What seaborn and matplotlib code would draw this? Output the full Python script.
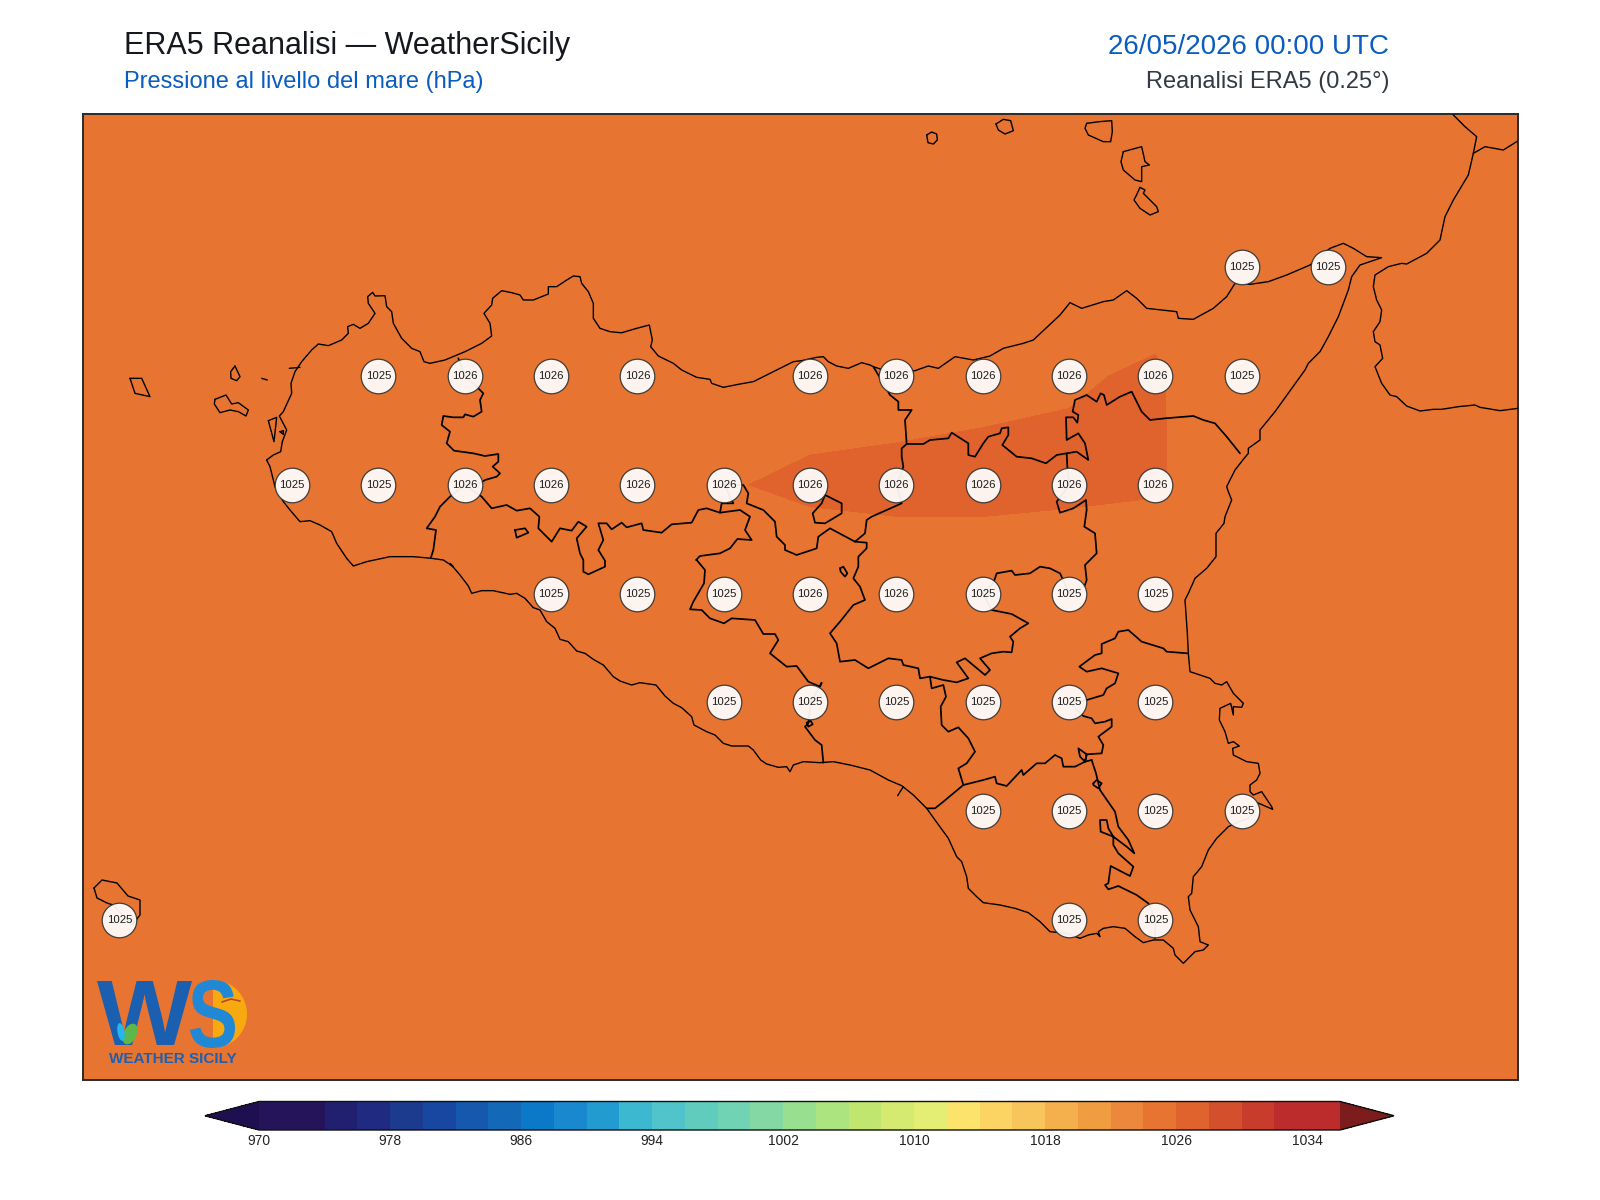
"""ERA5 mean sea level pressure over Sicily, WeatherSicily layout."""

import numpy as np
import pandas as pd
import matplotlib.pyplot as plt
import seaborn as sns
from matplotlib.colors import BoundaryNorm, ListedColormap
from matplotlib.font_manager import FontProperties
from matplotlib.patches import Ellipse, PathPatch, Wedge
from matplotlib.textpath import TextPath
from matplotlib.transforms import Affine2D

# ── Pressure field (hPa) on the 0.25 degree grid, south to north ───────────
LONS = [11.75, 12.0, 12.25, 12.5, 12.75, 13.0, 13.25, 13.5, 13.75, 14.0,
        14.25, 14.5, 14.75, 15.0, 15.25, 15.5, 15.75, 16.0, 16.25]
LATS = [36.25, 36.5, 36.75, 37.0, 37.25, 37.5, 37.75, 38.0, 38.25, 38.5, 38.75]
MSLP_3625 = [1025.0, 1025.0, 1025.0, 1025.0, 1025.0, 1025.0, 1025.0, 1025.0, 1025.0, 1025.0,
             1025.0, 1025.0, 1025.0, 1025.0, 1025.0, 1025.0, 1025.0, 1025.0, 1025.0]
MSLP_3650 = [1025.0, 1025.0, 1025.0, 1025.0, 1025.0, 1025.0, 1025.1, 1025.1, 1025.1, 1025.1,
             1025.1, 1025.1, 1025.1, 1025.1, 1025.1, 1025.0, 1025.0, 1025.0, 1025.0]
MSLP_3675 = [1025.1, 1025.1, 1025.1, 1025.1, 1025.1, 1025.1, 1025.1, 1025.2, 1025.2, 1025.2,
             1025.2, 1025.2, 1025.2, 1025.2, 1025.1, 1025.1, 1025.1, 1025.1, 1025.1]
MSLP_3700 = [1025.1, 1025.1, 1025.1, 1025.1, 1025.2, 1025.2, 1025.2, 1025.2, 1025.2, 1025.3,
             1025.3, 1025.3, 1025.3, 1025.3, 1025.2, 1025.2, 1025.1, 1025.1, 1025.1]
MSLP_3725 = [1025.1, 1025.1, 1025.2, 1025.2, 1025.2, 1025.3, 1025.3, 1025.3, 1025.4, 1025.4,
             1025.4, 1025.4, 1025.4, 1025.4, 1025.3, 1025.2, 1025.2, 1025.1, 1025.1]
MSLP_3750 = [1025.1, 1025.15, 1025.2, 1025.25, 1025.3, 1025.35, 1025.4, 1025.45, 1025.45, 1025.52,
             1025.51, 1025.49, 1025.49, 1025.49, 1025.4, 1025.3, 1025.2, 1025.15, 1025.1]
MSLP_3775 = [1025.15, 1025.2, 1025.3, 1025.4, 1025.45, 1025.55, 1025.65, 1025.75, 1025.95, 1026.12,
             1026.2, 1026.21, 1026.14, 1026.07, 1025.53, 1025.35, 1025.25, 1025.2, 1025.15]
MSLP_3800 = [1025.1, 1025.15, 1025.2, 1025.3, 1025.45, 1025.55, 1025.6, 1025.6, 1025.6, 1025.68,
             1025.68, 1025.81, 1025.94, 1026.07, 1025.49, 1025.3, 1025.2, 1025.15, 1025.1]
MSLP_3825 = [1025.1, 1025.15, 1025.2, 1025.25, 1025.3, 1025.35, 1025.4, 1025.4, 1025.45, 1025.45,
             1025.5, 1025.55, 1025.6, 1025.72, 1025.3, 1025.2, 1025.15, 1025.1, 1025.1]
MSLP_3850 = [1025.1, 1025.1, 1025.1, 1025.2, 1025.2, 1025.2, 1025.3, 1025.3, 1025.3, 1025.3,
             1025.3, 1025.3, 1025.3, 1025.3, 1025.2, 1025.2, 1025.1, 1025.1, 1025.1]
MSLP_3875 = [1025.0, 1025.0, 1025.1, 1025.1, 1025.1, 1025.1, 1025.1, 1025.2, 1025.2, 1025.2,
             1025.2, 1025.2, 1025.2, 1025.2, 1025.1, 1025.1, 1025.1, 1025.0, 1025.0]

# Grid points that carry a value label: latitude -> longitudes
LABELLED = {
    38.25: [15.25, 15.5],
    38.0: [12.75, 13.0, 13.25, 13.5, 14.0, 14.25, 14.5, 14.75, 15.0, 15.25],
    37.75: [12.5, 12.75, 13.0, 13.25, 13.5, 13.75, 14.0, 14.25, 14.5, 14.75, 15.0],
    37.5: [13.25, 13.5, 13.75, 14.0, 14.25, 14.5, 14.75, 15.0],
    37.25: [13.75, 14.0, 14.25, 14.5, 14.75, 15.0],
    37.0: [14.5, 14.75, 15.0, 15.25],
    36.75: [12.0, 14.75, 15.0],
}

# Colour scale
LEVELS = list(range(970, 1037, 2))
CBAR_TICKS = list(range(970, 1035, 8))
BAND_COLORS = [
    "#26145A", "#26145A", "#212070", "#1F2A80", "#1C3A8E", "#1747A0", "#1558AE", "#1368B8",
    "#0B78C8", "#1A88CE", "#229CD0", "#3CB8D0", "#50C4CA", "#60CCBE", "#70D4B4", "#84D8A4",
    "#98E090", "#ACE480", "#C0E670", "#D4EA70", "#E4EE74", "#FCE46C", "#FCD464", "#F8C45C",
    "#F4B04C", "#F09C40", "#EC883C", "#E87431", "#E0622C", "#D4502C", "#C83C2C", "#BC2C2C",
    "#BC2C2C",
]
COLOR_UNDER = "#1E1050"
COLOR_OVER = "#7C1C1C"

WEST = (120, 280)
CENTRE = (500, 340)
INNER = (840, 340)
SOUTH = (420, 560)
SOUTHEAST = (820, 620)
NORTHEAST = (1060, 0)
STRAIT = (1180, 300)
FAR_WEST = (80, 870)

COAST_NW = [(440, 540), (460, 525), (482, 515), (487, 485), (500, 450), (478, 408), (490, 395),
            (515, 340), (513, 310), (525, 275), (545, 245), (575, 210), (595, 192), (625, 197),
            (665, 180), (685, 160), (683, 140), (700, 133), (720, 145), (745, 130), (765, 100),
            (745, 70), (743, 50), (758, 37), (765, 48), (795, 47), (800, 80), (815, 95),
            (820, 130), (845, 175), (875, 205), (900, 215), (912, 245), (930, 250), (975, 240),
            (1035, 215), (1085, 190), (1115, 168), (1110, 130), (1092, 100), (1115, 75),
            (1118, 55), (1145, 32), (1175, 38), (1200, 45), (1210, 60), (1240, 60), (1285, 42),
            (1285, 20), (1310, 20), (1340, 0), (1360, -12), (1380, -10), (1385, 10), (1405, 35),
            (1420, 70), (1420, 115), (1440, 145), (1470, 155), (1500, 158)]
COAST_N = [(366, -22), (410, -35), (448, -45), (457, 0), (452, 20), (475, 48), (520, 70),
           (545, 90), (590, 112), (630, 118), (635, 130), (670, 142), (720, 132), (760, 125),
           (820, 95), (880, 65), (905, 62), (950, 52), (970, 50), (985, 65), (1010, 78),
           (1045, 85), (1085, 68), (1110, 75)]
COAST_N2 = [(100, 80), (160, 100), (225, 92), (265, 78), (295, 85), (345, 50), (400, 60),
            (450, 48), (490, 25), (550, 10), (580, 0)]
COAST_NE = [(0, 945), (30, 908), (65, 925), (130, 905), (160, 900), (200, 872), (230, 895),
            (260, 925), (350, 935), (355, 955), (400, 958), (460, 925), (500, 890), (525, 850),
            (570, 853), (625, 845), (680, 825), (750, 795), (810, 745), (850, 730), (880, 745),
            (920, 770), (965, 773), (900, 795), (875, 830), (865, 870), (835, 950)]
COAST_E = [(445, 110), (420, 155), (385, 190), (375, 210), (285, 335), (240, 390), (240, 420),
           (205, 445), (205, 460), (190, 478), (165, 510), (140, 560), (145, 575), (155, 600),
           (135, 650), (132, 670), (108, 700), (108, 770), (80, 805), (45, 835), (25, 880),
           (15, 900), (22, 1000)]
COAST_SE = [(1105, 100), (1110, 155), (1170, 175), (1185, 190), (1205, 195), (1220, 185),
            (1240, 220), (1270, 250), (1265, 262), (1240, 260), (1240, 285), (1232, 250),
            (1200, 265), (1198, 300), (1215, 335), (1225, 370), (1240, 365), (1258, 378),
            (1238, 385), (1240, 405), (1280, 425), (1315, 430), (1320, 460), (1310, 480),
            (1290, 495), (1290, 515), (1300, 525), (1325, 515), (1355, 560), (1358, 568),
            (1335, 558), (1312, 548), (1305, 570), (1285, 595), (1250, 608), (1225, 620),
            (1190, 655), (1165, 690), (1145, 740), (1120, 770), (1115, 820), (1105, 830),
            (1110, 870), (1135, 920), (1140, 965), (1165, 975), (1150, 990), (1125, 995),
            (1090, 1030), (1065, 1005), (1060, 985), (1030, 960), (1000, 960), (970, 968),
            (945, 950), (915, 925), (880, 920), (850, 925), (835, 935), (840, 950), (830, 940),
            (805, 945), (780, 955), (740, 940), (690, 935), (660, 905), (625, 878), (585, 865),
            (540, 855), (490, 848), (470, 830), (445, 805), (440, 770), (425, 725), (410, 710),
            (385, 655), (345, 600), (320, 565), (280, 525), (245, 497), (205, 480), (150, 450),
            (90, 435), (40, 425), (0, 428)]
COAST_S = [(1150, 605), (1120, 615), (1110, 635), (1100, 620), (1075, 622), (1040, 612),
           (1022, 600), (1000, 570), (985, 558), (935, 558), (910, 550), (885, 525), (860, 515),
           (822, 495), (815, 470), (785, 443), (760, 430), (735, 408), (708, 375), (660, 368),
           (635, 375), (600, 363), (580, 350), (550, 315), (520, 298), (495, 280), (470, 273),
           (445, 245), (420, 238), (405, 205), (380, 185), (360, 150), (340, 143), (315, 115),
           (290, 100), (270, 103), (220, 92), (185, 92), (155, 100), (145, 78), (120, 45),
           (90, 10)]
COAST_SW = [(1000, 860), (970, 840), (935, 835), (880, 830), (810, 830), (740, 845), (700, 858),
            (680, 835), (650, 790), (635, 755), (600, 735), (570, 722), (540, 725), (510, 690),
            (490, 665), (465, 620), (450, 560), (440, 540)]
COAST_SPIKE = [(1450, 680), (1433, 707)]

PROV_TP = [(1015, 235), (1035, 288), (1080, 330), (1090, 340), (1080, 360), (1085, 395), (1060, 410),
           (1035, 403), (1030, 412), (1000, 412), (970, 408), (965, 435), (990, 455), (980, 490),
           (1002, 512), (1060, 520), (1095, 528), (1135, 522), (1135, 545), (1118, 560), (1140, 580),
           (1130, 590), (1095, 600), (1080, 610), (1035, 615), (990, 650), (960, 680), (945, 710),
           (920, 745), (948, 750), (940, 810), (932, 835)]
PROV_PA_A = [(1035, 615), (1085, 650), (1115, 685), (1160, 675)]
PROV_PA_B = [(50, 512), (90, 505), (118, 530), (115, 565), (155, 605), (180, 565), (215, 572),
             (235, 545), (260, 560), (230, 595), (240, 640), (250, 660), (250, 695), (265, 703),
             (315, 680), (315, 662), (295, 630), (310, 600), (295, 550), (320, 550), (335, 568),
             (365, 548), (380, 562), (425, 550), (430, 570), (485, 578), (515, 553), (575, 548),
             (595, 510), (620, 505), (660, 518), (720, 510), (750, 530), (735, 570), (755, 600),
             (712, 597), (690, 625), (660, 640), (600, 648), (588, 660)]
PROV_AG = [(830, 0), (855, 30), (852, 70), (820, 125), (810, 148), (845, 150), (870, 175),
           (912, 190), (935, 175), (1005, 180), (1030, 222), (1065, 222), (1075, 240), (1050, 280),
           (1100, 320), (1130, 318), (1165, 365), (1200, 380), (1205, 368), (1172, 428), (1165, 490),
           (1155, 500), (1185, 540), (1205, 555), (1210, 608)]
PROV_CL_A = [(660, 518), (665, 490), (700, 490), (695, 480), (673, 433)]
PROV_EN_A = [(673, 433), (730, 435), (745, 460), (740, 490), (790, 510), (825, 545), (830, 590),
             (855, 615), (855, 630), (890, 645), (950, 625), (955, 590), (990, 565), (1065, 605),
             (1100, 608), (1100, 625), (1075, 650), (1075, 680), (1060, 715), (1080, 740),
             (1095, 780), (1060, 795), (1020, 845), (990, 880)]
PROV_EN_B = [(50, 70), (60, 125), (105, 120), (145, 145), (205, 115), (245, 120), (250, 135),
             (295, 145), (300, 175), (330, 170), (370, 180), (410, 187), (445, 175), (410, 127),
             (435, 115), (495, 165), (510, 150), (480, 115), (515, 100), (550, 95), (575, 97),
             (580, 65), (570, 50), (600, 25), (625, 10)]
PROV_EN_C = [(515, 822), (455, 810), (428, 760), (460, 730), (470, 700), (515, 692), (525, 705),
             (570, 700), (600, 680), (630, 685), (660, 700), (688, 760), (733, 740), (740, 720),
             (735, 675), (770, 640), (765, 580), (733, 560), (740, 510), (738, 480), (700, 505),
             (660, 518), (650, 485), (688, 435), (682, 380), (680, 340)]
PROV_ME_A = [(1065, 605), (1095, 580), (1100, 540)]
PROV_ME_B = [(95, 530), (185, 490), (170, 435), (190, 380), (185, 350), (185, 325), (200, 312),
             (195, 240), (215, 210), (175, 210), (175, 185), (150, 165), (130, 130), (100, 80)]
PROV_ME_C = [(200, 312), (250, 312), (270, 300), (325, 295), (335, 278), (385, 310), (385, 345),
             (405, 350), (430, 310), (445, 290), (480, 280), (485, 265), (505, 262), (505, 285),
             (487, 315), (530, 350), (575, 355), (618, 370), (650, 345), (680, 340), (710, 335),
             (745, 360), (735, 310), (715, 280), (680, 300), (678, 232), (700, 232), (712, 248),
             (715, 225), (698, 215), (705, 180), (740, 165), (770, 185), (782, 160), (792, 165),
             (800, 195), (840, 170), (875, 155), (905, 215), (930, 240), (975, 235), (1060, 228),
             (1090, 240), (1125, 250), (1160, 290), (1200, 340)]
PROV_CL_B = [(330, 170), (335, 205), (370, 195), (378, 230), (362, 260), (365, 315), (385, 335),
             (415, 322), (445, 355), (465, 395), (440, 430), (415, 445), (430, 495), (400, 520),
             (370, 545), (345, 565), (320, 565)]
PROV_RG_A = [(430, 495), (490, 480), (525, 470), (530, 490), (560, 498), (605, 450), (610, 465),
             (650, 430), (675, 430), (705, 405), (725, 415), (730, 440), (765, 440), (795, 425),
             (815, 420)]
PROV_CT = [(795, 425), (800, 403), (775, 385), (780, 410), (795, 425), (800, 403), (845, 400),
           (850, 375), (835, 350), (875, 320), (875, 297), (855, 305), (825, 310), (815, 295),
           (790, 288), (748, 248), (800, 240), (850, 225), (860, 205), (885, 190), (895, 160),
           (845, 145), (800, 155), (778, 140), (825, 105), (845, 100), (845, 72), (885, 55),
           (895, 35), (925, 30), (965, 65), (1030, 85), (1040, 95), (1103, 100)]
PROV_RG_B = [(815, 420), (828, 460), (840, 510), (885, 575), (895, 620), (925, 660), (943, 700),
             (920, 680), (880, 650), (865, 625), (860, 600), (840, 600), (842, 635), (880, 650),
             (880, 675), (895, 700), (940, 740), (930, 768), (872, 738), (865, 790), (855, 795),
             (865, 808), (895, 798), (950, 825), (985, 850), (1007, 900), (1005, 955)]

RING_SE = [(820, 490), (830, 480), (845, 490), (835, 505), (820, 495), (820, 490)]
RING_EN = [(975, 465), (1025, 490), (1025, 520), (975, 550), (945, 548), (938, 520), (965, 490),
           (975, 465)]
RING_PA = [(45, 570), (75, 565), (85, 578), (50, 593), (45, 570)]
RING_LAKE = [(1020, 685), (1030, 680), (1042, 700), (1035, 710), (1022, 695), (1020, 685)]
RING_AG = [(1160, 488), (1172, 482), (1178, 493), (1165, 500), (1160, 488)]

MARETTIMO = [(30, 295), (65, 295), (90, 350), (45, 340), (30, 295)]
LEVANZO = [(345, 258), (360, 290), (350, 302), (333, 295), (332, 275), (345, 258)]
FAVIGNANA = [(285, 358), (318, 345), (335, 372), (355, 368), (385, 390), (378, 408), (355, 395),
             (330, 390), (300, 398), (283, 372), (285, 358)]
FORMICA = [(425, 295), (442, 300)]
STAGNONE = [(445, 422), (470, 412), (462, 485), (445, 422)]
STAGNONE_IN = [(480, 455), (490, 452), (490, 463), (480, 455)]
TRAPANI_SALT = [(508, 265), (540, 262)]
SALINA = [(80, 370), (118, 365), (155, 362), (157, 395), (152, 425), (130, 425), (85, 405),
          (75, 385), (80, 370)]
LIPARI = [(190, 455), (245, 440), (255, 485), (268, 495), (245, 500), (245, 545), (225, 540),
          (190, 510), (183, 485), (190, 455)]
VULCANO = [(240, 562), (255, 570), (250, 580), (290, 620), (295, 635), (270, 645), (240, 625),
           (222, 600), (232, 580), (240, 562)]
FILICUDI = [(-192, 372), (-170, 358), (-148, 362), (-140, 392), (-165, 402), (-185, 390), (-192, 372)]
ALICUDI = [(-400, 405), (-385, 396), (-370, 402), (-368, 420), (-380, 432), (-396, 428), (-400, 405)]
PANTELLERIA = [(42, 54), (66, 30), (111, 39), (144, 78), (180, 90), (180, 135), (156, 165), (99, 105),
               (81, 99), (51, 84), (42, 54)]

CALABRIA = [(1180, 345), (1215, 380), (1250, 410), (1240, 460), (1225, 525), (1180, 600),
            (1155, 650), (1140, 720), (1100, 760), (1040, 792), (1025, 790), (985, 800),
            (945, 825), (940, 860), (950, 900)]
CALABRIA_B = [(605, 30), (600, 65), (580, 95), (585, 125), (600, 135), (608, 175), (585, 200),
              (605, 250), (630, 285), (650, 290), (680, 318), (720, 333), (760, 328), (785, 328),
              (835, 320), (885, 315), (900, 322), (960, 332), (1030, 323)]
CALABRIA_N = [(1240, 460), (1275, 440), (1330, 450), (1370, 425), (1395, 415)]

# Where the map sits in the picture (px), fitted on the labelled grid points
AX_LEFT, AX_RIGHT, AX_TOP, AX_BOTTOM = 83, 1518, 114, 1080
X_AT_12E, PX_PER_LON = 119.4, 345.3
Y_AT_38N, PX_PER_LAT = 376.0, 435.2
FIG_W, FIG_H = 1600, 1200


def to_lonlat(*pieces):
    """Join digitised pieces (crop origin, 3x points) into lon and lat arrays."""
    xs, ys = [], []
    for origin, pts in pieces:
        arr = np.array(pts, dtype=float)
        xs.append(origin[0] + arr[:, 0] / 3)
        ys.append(origin[1] + arr[:, 1] / 3)
    x, y = np.concatenate(xs), np.concatenate(ys)
    return 12 + (x - X_AT_12E) / PX_PER_LON, 38 - (y - Y_AT_38N) / PX_PER_LAT


def fig_xy(x, y):
    """Picture px to figure fraction."""
    return x / FIG_W, 1 - y / FIG_H


def logo_letter(ax, letter, box, color, zorder):
    """Logo letter stretched into its box (x0, x1, y_top, y_bottom), as a shape."""
    path = TextPath((0, 0), letter, size=100,
                    prop=FontProperties(family="Liberation Sans", weight="bold"))
    bb = path.get_extents()
    x0, x1, y_top, y_bottom = box
    tr = (Affine2D().translate(-bb.x0, -bb.y0)
          .scale((x1 - x0) / bb.width, -(y_bottom - y_top) / bb.height)
          .translate(x0, y_bottom))
    ax.add_patch(PathPatch(path, transform=tr + ax.transData, fc=color, lw=0, zorder=zorder))


sns.set_theme(style="white", font="Liberation Sans")
plt.rcParams["font.family"] = ["Liberation Sans", "DejaVu Sans"]

mslp = np.array([MSLP_3625, MSLP_3650, MSLP_3675, MSLP_3700, MSLP_3725, MSLP_3750,
                 MSLP_3775, MSLP_3800, MSLP_3825, MSLP_3850, MSLP_3875])

labels = pd.DataFrame(
    [
        {"lon": lon, "lat": lat, "value": mslp[LATS.index(lat), LONS.index(lon)]}
        for lat, lons in LABELLED.items()
        for lon in lons
    ]
)

fig = plt.figure(figsize=(FIG_W / 100, FIG_H / 100), dpi=100, facecolor="white")
ax = fig.add_axes([
    AX_LEFT / FIG_W, 1 - AX_BOTTOM / FIG_H,
    (AX_RIGHT - AX_LEFT) / FIG_W, (AX_BOTTOM - AX_TOP) / FIG_H,
])

# ── Field ──────────────────────────────────────────────────────────────────
cmap = ListedColormap(BAND_COLORS)
cmap.set_under(COLOR_UNDER)
cmap.set_over(COLOR_OVER)
norm = BoundaryNorm(LEVELS, cmap.N)
field = ax.contourf(LONS, LATS, mslp, levels=LEVELS, cmap=cmap, norm=norm, extend="both", zorder=1)

# ── Outlines ───────────────────────────────────────────────────────────────
coast_pieces = [
    [(WEST, COAST_NW), (CENTRE, COAST_N), (INNER, COAST_N2), (NORTHEAST, COAST_NE),
     (STRAIT, COAST_E), (SOUTHEAST, COAST_SE), (SOUTH, COAST_S), (WEST, COAST_SW)],
    [(SOUTH, COAST_SPIKE)],
    [(WEST, MARETTIMO)], [(WEST, LEVANZO)], [(WEST, FAVIGNANA)], [(WEST, FORMICA)],
    [(WEST, STAGNONE)], [(WEST, STAGNONE_IN)], [(WEST, TRAPANI_SALT)],
    [(NORTHEAST, SALINA)], [(NORTHEAST, LIPARI)], [(NORTHEAST, VULCANO)],
    [(NORTHEAST, FILICUDI)], [(NORTHEAST, ALICUDI)], [(FAR_WEST, PANTELLERIA)],
    [(NORTHEAST, CALABRIA), (STRAIT, CALABRIA_B)], [(NORTHEAST, CALABRIA_N)],
]
province_pieces = [
    [(WEST, PROV_TP)],
    [(WEST, PROV_PA_A), (CENTRE, PROV_PA_B), (SOUTH, PROV_AG)],
    [(CENTRE, PROV_CL_A)],
    [(CENTRE, PROV_EN_A), (SOUTHEAST, PROV_EN_B), (INNER, PROV_EN_C)],
    [(CENTRE, PROV_ME_A), (INNER, PROV_ME_B)],
    [(INNER, PROV_ME_C)],
    [(SOUTHEAST, PROV_CL_B)],
    [(SOUTHEAST, PROV_RG_A)],
    [(SOUTHEAST, PROV_CT)],
    [(SOUTHEAST, PROV_RG_B)],
    [(SOUTHEAST, RING_SE)], [(CENTRE, RING_EN)], [(CENTRE, RING_PA)], [(CENTRE, RING_LAKE)],
    [(SOUTH, RING_AG)],
]
for pieces in coast_pieces:
    lon, lat = to_lonlat(*pieces)
    ax.plot(lon, lat, color="black", lw=1.0, solid_joinstyle="round", zorder=3)
for pieces in province_pieces:
    lon, lat = to_lonlat(*pieces)
    ax.plot(lon, lat, color="black", lw=1.25, solid_joinstyle="round", zorder=3)

# ── Value labels ───────────────────────────────────────────────────────────
sns.scatterplot(
    data=labels, x="lon", y="lat", s=620, color="white", edgecolor="#333333",
    linewidth=0.9, alpha=0.93, legend=False, ax=ax, zorder=5,
)
for row in labels.itertuples():
    ax.text(row.lon, row.lat, f"{round(row.value)}", ha="center", va="center",
            fontsize=8.2, color="#1C1C1C", zorder=6)

ax.set_xlim(12 + (AX_LEFT - X_AT_12E) / PX_PER_LON, 12 + (AX_RIGHT - X_AT_12E) / PX_PER_LON)
ax.set_ylim(38 - (AX_BOTTOM - Y_AT_38N) / PX_PER_LAT, 38 - (AX_TOP - Y_AT_38N) / PX_PER_LAT)
ax.set_xlabel("")
ax.set_ylabel("")
ax.set_xticks([])
ax.set_yticks([])
for spine in ax.spines.values():
    spine.set_visible(True)
    spine.set_color("#2A2A2A")
    spine.set_linewidth(1.4)

# ── Colour bar: the axes span tip to tip, extendfrac keeps the body at 970-1036 ─
cax = fig.add_axes([205 / FIG_W, 1 - 1130 / FIG_H, 1189 / FIG_W, 28.5 / FIG_H])
cbar = fig.colorbar(field, cax=cax, orientation="horizontal", ticks=CBAR_TICKS, extendfrac=0.05)
cbar.ax.minorticks_off()
cbar.ax.tick_params(length=0, pad=3, labelsize=10, labelcolor="#222222")
cbar.outline.set_edgecolor("#111111")
cbar.outline.set_linewidth(1.0)

# ── Titles ─────────────────────────────────────────────────────────────────
fig.text(*fig_xy(124, 54), "ERA5 Reanalisi — WeatherSicily", fontsize=22, color="#15181E", va="baseline")
fig.text(*fig_xy(124, 88), "Pressione al livello del mare (hPa)", fontsize=17, color="#0A5CBF", va="baseline")
fig.text(*fig_xy(1389, 53.5), "26/05/2026 00:00 UTC", fontsize=20, color="#0A5CBF", ha="right", va="baseline")
fig.text(*fig_xy(1389, 88), "Reanalisi ERA5 (0.25°)", fontsize=17, color="#333A44", ha="right", va="baseline")

# ── Logo, redrawn roughly ──────────────────────────────────────────────────
logo = fig.add_axes([0, 0, 1, 1], facecolor="none", zorder=8)
logo.set_xlim(0, FIG_W)
logo.set_ylim(FIG_H, 0)
logo.axis("off")
logo.add_patch(Wedge((213, 1014), 34, -90, 90, color="#F7A90F", lw=0, zorder=1))
logo_letter(logo, "S", (190, 235, 980, 1048), "#2088D4", 2)
logo_letter(logo, "W", (97, 192, 981, 1045), "#1A5FB0", 3)
logo.add_patch(Ellipse((130, 1034), 13, 22, angle=25, color="#5DB84A", lw=0, zorder=4))
logo.add_patch(Ellipse((121, 1032), 7, 18, angle=-10, color="#25B6EE", lw=0, zorder=4))
logo.plot([222, 231, 240], [1002, 999, 1001], color="#B5472A", lw=1.2, zorder=5)
logo.text(173, 1059, "WEATHER SICILY", fontsize=11, fontweight="bold", color="#1D5FB0", ha="center", va="center")

fig.savefig("out.png", dpi=100)
